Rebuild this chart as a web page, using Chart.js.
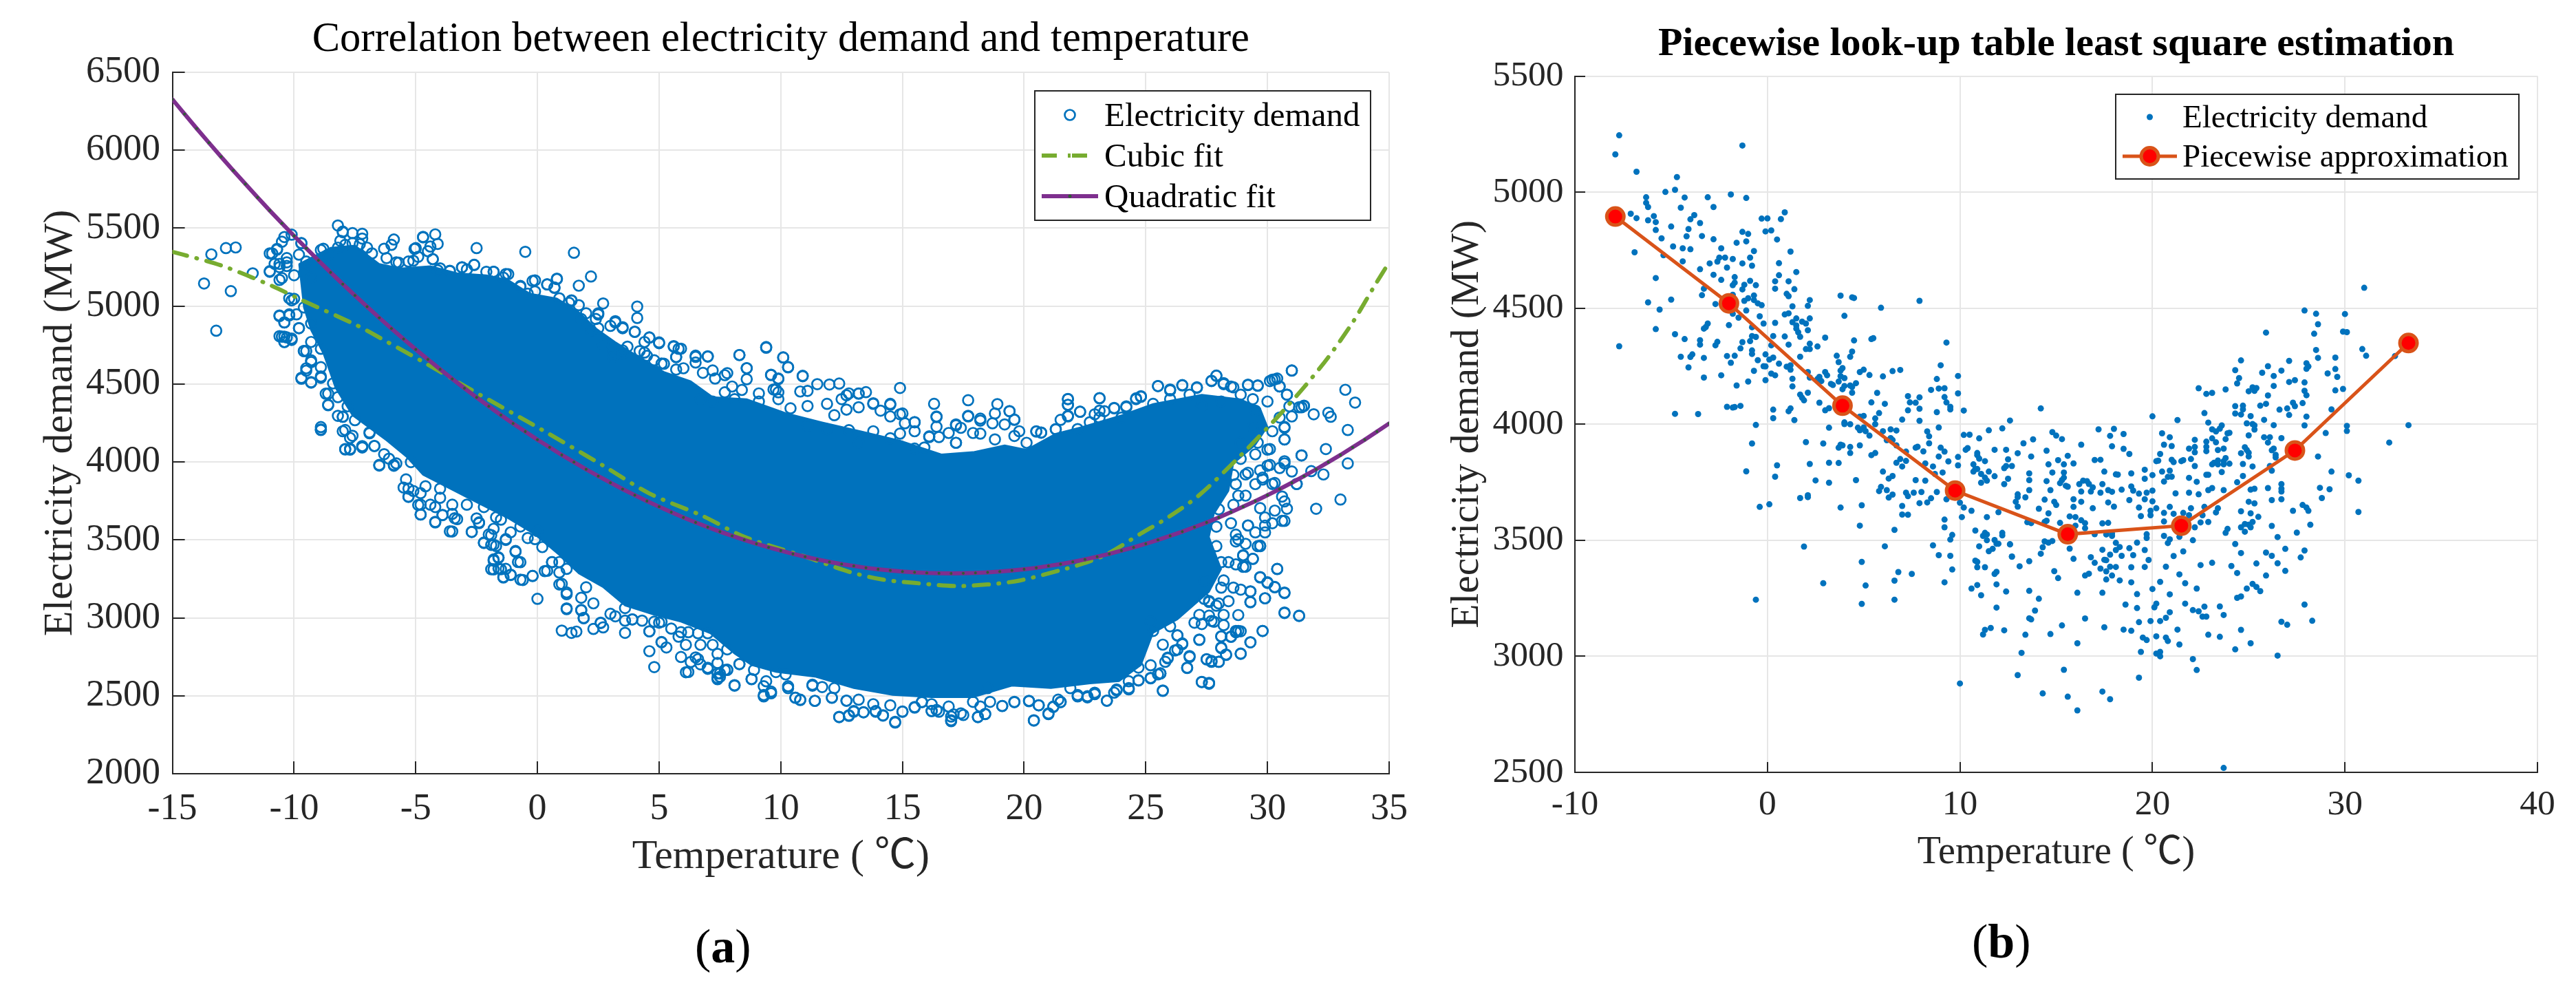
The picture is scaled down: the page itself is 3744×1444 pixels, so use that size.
<!DOCTYPE html>
<html>
<head>
<meta charset="utf-8">
<title>Electricity demand and temperature</title>
<script src="https://cdn.jsdelivr.net/npm/chart.js@4"></script>
<style>
html, body { margin: 0; padding: 0; background: #fff; width: 3744px; height: 1444px; overflow: hidden; }
canvas { position: absolute; top: 0; }
.caption { position: absolute; font-family: "Liberation Serif", serif; font-size: 70px; line-height: 1; color: #000; }
</style>
</head>
<body>
<canvas id="demandChart" width="2060" height="1300" style="left:0"></canvas>
<canvas id="lookupChart" width="1684" height="1300" style="left:2060px"></canvas>
<div class="caption" style="left:1010px;top:1340px">(<b>a</b>)</div>
<div class="caption" style="left:2866px;top:1333px">(<b>b</b>)</div>
<script>
// tick labels
const xTicksA = [-15, -10, -5, 0, 5, 10, 15, 20, 25, 30, 35];
const yTicksA = [2000, 2500, 3000, 3500, 4000, 4500, 5000, 5500, 6000, 6500];
const xTicksB = [-10, 0, 10, 20, 30, 40];
const yTicksB = [2500, 3000, 3500, 4000, 4500, 5000, 5500];

// left chart: dense part of the cloud, read as an outline
const cloudOutlineA = [[-9.8,5271],[-8.5,5375],[-7.5,5389],[-6.5,5271],[-5.6,5242],[-4.4,5257],[-3.3,5212],[-2.1,5198],[-1.2,5168],[-0.3,5080],[0.8,5050],[1.7,4962],[2.4,4858],[3.2,4770],[4.1,4681],[5.2,4578],[6.3,4519],[7.2,4417],[8.6,4403],[10.2,4314],[11.7,4255],[13.3,4197],[14.9,4138],[16.6,4049],[17.9,4064],[19.2,4108],[20.1,4079],[21.3,4182],[22.4,4226],[24,4300],[25.3,4373],[27.3,4432],[28.9,4403],[29.7,4344],[30,4226],[29.5,4108],[28.6,3990],[28.4,3814],[27.8,3666],[27.6,3519],[28.1,3313],[27.6,3166],[26.3,2990],[25.3,2902],[24.8,2696],[23.9,2593],[22.7,2578],[21.1,2549],[19.5,2564],[17.9,2490],[16.2,2490],[14.6,2505],[13,2549],[11.4,2622],[9.8,2652],[8.8,2696],[8.1,2770],[7.1,2901],[5.9,2975],[4.8,3019],[3.6,3078],[2.7,3196],[1.7,3284],[0.9,3402],[-0.1,3534],[-1.2,3638],[-2.5,3741],[-3.6,3829],[-4.7,3917],[-5.4,4035],[-6.2,4138],[-7.6,4298],[-8.3,4475],[-8.8,4696],[-9.3,4844],[-9.6,4991],[-9.8,5271]];

// left chart: circles around the cloud
const demandA = [[-13.4,5332],[-12.8,5372],[-12.4,5376],[-13.7,5145],[-12.6,5096],[-13.2,4842],[-11.7,5210],[-11,5224],[-11,5338],[-10.7,5362],[-10.4,5443],[-10.1,5458],[-10.5,5413],[-9.7,5403],[-10.8,5271],[-10.6,5250],[-10.3,5281],[-10.5,5180],[-10.1,5037],[-10,5047],[-10.6,4936],[-10.2,4940],[-10.4,4895],[-9.8,4859],[-10.5,4804],[-10.4,4804],[-10.1,4783],[-10.4,4769],[-9.6,4712],[-9.5,4712],[-9.3,4641],[-9.5,4601],[-9.7,4540],[-9.3,4509],[-8.9,4540],[-8.7,4438],[-8.6,4367],[-8.9,4209],[-7.9,4205],[-7.9,4083],[-7.7,4079],[-7.2,4093],[-6.7,4103],[-7.7,4154],[-8.2,4296],[-8,4290],[-6.9,4184],[-6.5,3977],[-5.9,3981],[-5.8,3991],[-8.2,5517],[-8,5474],[-7.6,5468],[-7.2,5464],[-7.2,5433],[-8.8,5368],[-7.9,5393],[-6.3,5368],[-5.9,5427],[-6,5393],[-4.7,5444],[-4.2,5460],[-4.1,5399],[-5,5372],[-4.5,5352],[-4.3,5301],[-5.1,5291],[-5.8,5281],[-2.5,5372],[-0.5,5348],[1.5,5342],[2.2,5190],[1.7,5131],[0.8,5173],[0.7,5119],[-0.1,5165],[-0.7,5129],[-1.3,5206],[-1.8,5220],[-2.6,5265],[-3.1,5249],[-3.6,5224],[-4.1,5230],[0.4,5139],[1.4,5037],[2.7,5017],[4.1,4997],[4.1,4924],[2.5,4946],[3.2,4895],[3.5,4865],[4,4834],[4.6,4798],[5,4767],[5.6,4743],[5.9,4727],[5.7,4672],[6,4601],[5.1,4631],[4.4,4702],[3.5,4716],[3.1,4672],
[-5.3,3829],[-4.8,3663],[-4.2,3612],[-3.9,3659],[-3.4,3639],[-3.6,3555],[-2.7,3551],[-5.3,3776],[-4.9,3724],[-2.4,3612],[-2.2,3480],[-1.8,3469],[-1.9,3531],[-1.3,3500],[-0.9,3429],[-0.7,3357],[-1.8,3367],[-1.6,3388],[-1.9,3312],[-1.5,3312],[-1.4,3259],[-1.1,3275],[-0.7,3245],[-0.2,3269],[0,3122],[0.3,3300],[0.6,3357],[0.9,3214],[1.2,3163],[1.2,3061],[1.8,3051],[1.9,3000],[1,2918],[1.4,2904],[1.6,2912],[2.3,2929],[2.7,2939],[2.6,2969],[3.6,2904],[3.2,3010],[3.9,2990],[4.6,2914],[5.1,2843],[5.3,2810],[4.6,2786],[4.8,2684],[5.9,2749],[6.1,2651],[5.9,2908],[5,2969],
[6.2,2653],[6.6,2735],[7,2673],[7.4,2606],[8.1,2565],[7.8,2667],[8.3,2704],[7.4,2643],[8.8,2606],[9.3,2496],[9.6,2516],[9.3,2561],[10.3,2561],[10.6,2488],[10.8,2473],[11.4,2467],[12.1,2488],[11.3,2565],[12.7,2469],[12.4,2363],[12.8,2371],[13,2398],[13.4,2394],[13.9,2398],[14.2,2373],[14.7,2328],[15,2398],[15.5,2428],[15.8,2459],[16.2,2402],[16.5,2398],[17,2337],[17,2367],[17.5,2377],[18.1,2363],[18.4,2382],[19.1,2435],[19.6,2459],[20.2,2465],[20.4,2341],[21,2382],[20.6,2439],[21.2,2428],[21.5,2459],[22.2,2496],[22.6,2490],[22.9,2510],[23.4,2469],[23.8,2541],[24.3,2541],[24.7,2598],[25.2,2612],[25.7,2531],[25.6,2643],[25.9,2745],[26.3,2796],[26.7,2678],[26.8,2749],[27.3,2588],[27.6,2577],[27.5,2735],[27.7,2724],[28,2718],[28.3,2765],[28.1,2810],[28.9,2771],[29.3,2843],[29.8,2916],[27.2,2861],[26.5,2831],[28.1,2882],[28.5,2878],[28.9,2914],[28.7,2908],[27.6,3014],[28.2,2953],[27.7,2980],[28.8,3018],[30.7,3031],[31.3,3014],[30.7,3159],[30.3,3198],[30,3224],[29.7,3259],[30.4,3314],[29.9,3126],[29.3,3102],[29.3,3169],[29.4,3378],[29,3398],[28.6,3194],[29,3327],[29.7,3463],[28,3092],[28.1,3194],[27.6,3102],[27,2969],[26.3,2888],
[32,3700],[33,3759],[30.8,3700],[30.7,3622],[29.9,3592],[29.7,3704],[29.2,3592],
[9.4,4733],[8.3,4686],[7,4676],[6.5,4682],[10.1,4670],[10.3,4607],[9.6,4560],[9.9,4536],[10.9,4550],[11.5,4499],[12,4497],[12.4,4503],[10.8,4452],[11.1,4456],[9.8,4465],[8.6,4601],[7.8,4570],[14.9,4475],[13.5,4448],[12.7,4428],[13.2,4438],[13.8,4377],[14.5,4367],[16.3,4373],[17.7,4396],[18.9,4371],[16.4,4292],[17.7,4296],[19.4,4326],[19.6,4272],[15.5,4255],[14.9,4306],[18.2,4265],[17.2,4235],[16.1,4160],[17.2,4123],[21.8,4404],[21.8,4367],[22.3,4322],[23.1,4408],[23.7,4347],[24.2,4357],[21.8,4296],[22.9,4306],[23.3,4326],[21.3,4209],[20.5,4195],[20.7,4188],[24.6,4408],[24.8,4422],[25.5,4487],[26,4465],[26.5,4493],[27.1,4479],[27.7,4519],[27.9,4554],[28.2,4499],[28.6,4479],[29.2,4493],[29.6,4489],[30.1,4519],[30.3,4530],[30.5,4485],[30.8,4432],[31,4586],[30.9,4357],[31.4,4351],[31.5,4361],[31.9,4306],[32.5,4316],[32.6,4290],[33.2,4463],[33.6,4381],[33.3,4205],[32.4,4083],[31.4,4042],[33.3,3991],[32.3,3920],[31.8,3941],[30.7,4225],[30.7,4144],[30.1,4083],[30.1,3981],[30.7,3991],[31.2,3859],[29.8,3900],[29.1,3920],[29.6,4124],[30.2,3859],[30.6,3778]];

// left chart: the busier fringe of the cloud, from closer crops
const fringeA = [[-10.7,5367],[-10.9,5338],[-9.7,5404],[-11,5220],[-10.6,5271],[-10.3,5308],[-10.3,5257],[-10.6,5168],[-9.8,5330],[-9.5,5286],[-9.6,5212],[-10,5198],[-9.3,5183],[-8.9,5360],[-8.6,5330],[-8.2,5375],[-8,5478],[-8.1,5419],[-7.6,5404],[-7.3,5397],[-7,5375],[-6.8,5338],[-6.2,5308],[-5.7,5279],[-5.3,5286],[-5.05,5367],[-4.7,5441],[-4.4,5382],[-4.3,5301],[-4.9,5316],[-4,5242],[-3.6,5227],[-3.1,5249],[-2.9,5235],[-2.6,5264],[-2.1,5220],[-1.8,5220],[-1.2,5205],[-1.4,5183],[-0.7,5124],[-0.2,5161],[0.4,5139],[0.8,5176],[0.7,5117],[-0.1,5094],[-0.4,5080],[0.9,5050],[1.4,5035],[1.7,5006],[2,4954],[2.5,4954],[2.4,4917],[3.2,4903],[3,4873],[3.5,4858],[4,4836],[4.4,4770],[4.6,4799],[5,4762],[5.6,4740],[5.8,4726],[6.5,4674],[5.7,4674],[5.7,4593],[5.2,4630],[4.8,4652],[4.5,4681],[4.2,4711],[3.7,4740],[3.5,4696],[3.1,4696],[2.5,4858],[2.7,4755],[2.2,4844],[1.8,4917],[1.3,5021],
[-10.2,5050],[-9.6,4991],[-9.9,4947],[-10.6,4940],[-10.2,4947],[-10.4,4895],[-9.8,4858],[-10.6,4807],[-10.3,4799],[-10.4,4770],[-10.1,4792],[-9.6,4711],[-9.3,4888],[-9.3,4770],[-8.9,4726],[-9.3,4652],[-9.5,4586],[-9.7,4534],[-9.3,4512],[-8.9,4549],[-8.9,4608],[-8.4,4504],[-8.6,4438],[-8.6,4364],[-8.2,4416],[-8,4290],[-7.8,4357],[-7.5,4268],[-8.9,4224],
[-8.9,4205],[-7.9,4080],[-7.7,4084],[-7.2,4102],[-6.7,4102],[-8,4197],[-7.6,4168],[-6.9,4190],[-6.5,3981],[-6.3,4050],[-5.9,3976],[-6.1,4021],[-5.2,3999],[-5.4,3888],[-5.5,3836],[-5.3,3778],[-5.1,3814],[-4.8,3800],[-4.8,3726],[-4.8,3663],[-4.4,3726],[-4.2,3711],[-3.9,3660],[-4.2,3616],[-3.5,3726],[-3.5,3667],[-3.3,3633],[-3.5,3554],[-4,3829],[-4,3770],[-4.6,3844],[-2.9,3726],[-2.2,3711],[-2.7,3552],[-2.5,3638],[-2.4,3608],[-1.7,3645],[-1.5,3630],[-1.8,3571],[-2,3535],[-2.2,3483],[-1.9,3468],[-1.7,3461],[-1.3,3505],[-1.1,3549],[-0.7,3586],[-0.4,3512],[-0.1,3505],[0,3557],[0.2,3454],[-0.9,3424],[-1.6,3384],[-1.8,3375],[-0.8,3358],[-1.8,3311],[-1.6,3317],[-1.3,3314],[-1.4,3262],[-1.1,3277],[-0.6,3243],[-0.2,3269],[0.4,3302],[0.6,3358],[0.9,3358],[0.9,3291],[1.2,3314],[1,3218],[1.2,3152],[1.2,3056],[1.8,3048],[1.9,2997],[1.8,3129],[2,3196],[2.3,3093],[2.6,2967],[3,3026],[3.6,3063],[3.6,2982],[3.9,2990],[4.3,2982],[4.8,2975],[4.6,2913],[5.1,2845],[5.5,2931],[5.8,2879],[6.1,2827],[6.2,2908],[6.3,2717],[6.5,2746],[6.6,2901],[6.7,2702],[6.7,2827],[7,2680],[7,2901],[7.2,2827],[7.4,2710],[7.4,2614],[7.4,2769],[7.5,2643],[7.7,2665],[7.8,2798],[5.1,2975],
[6.5,4638],[7,4678],[8.3,4686],[9.4,4737],[10.1,4671],[10.3,4609],[8.6,4602],[9.6,4557],[9.9,4532],[10.9,4553],[9.7,4465],[9.9,4447],[9.1,4440],[8.4,4462],[8,4484],[7.7,4557],[7.2,4587],[6.8,4572],[8.6,4531],[7.3,4535],[7.7,4447],[7.2,4388],[6.7,4403],[8.1,4403],[9.1,4388],[9.9,4403],[10.4,4344],[11.1,4359],[11.9,4373],[12.5,4403],[13.2,4440],[12.8,4440],[13.8,4373],[14.5,4373],[14.1,4329],[13.2,4351],[12.7,4336],[12.2,4300],[15,4311],[14.5,4292],[15.5,4255],[15.1,4248],[16.4,4288],[17.7,4292],[18.8,4311],[19.4,4326],[19.6,4270],[18.2,4278],[17.2,4241],[17.4,4219],[16.4,4226],[16.9,4186],[16.5,4160],[16.1,4164],[17.2,4123],[17.9,4186],[18.2,4182],[18.8,4145],[19.2,4241],[18.7,4248],[19.8,4197],[19.6,4167],[20.5,4197],[20.7,4189],[20.1,4123],[15.5,4086],[15.9,4093],[14.9,4182],[15.5,4197],[13.8,4197],[14.5,4152],[12.8,4204],[13.2,4123],[11.9,4211],[11.1,4233],
[21.8,4403],[21.8,4366],[23.1,4410],[22.3,4322],[21.8,4292],[21.5,4270],[23.1,4329],[23.7,4344],[24.2,4351],[24.6,4403],[24.8,4418],[25.5,4487],[26,4459],[26.5,4491],[27.1,4476],[27.7,4521],[27.9,4553],[28.5,4484],[29.2,4496],[29.6,4491],[30.2,4528],[30.4,4535],[30.5,4484],[31,4587],[30.8,4432],[28.9,4432],[28.2,4506],[26.8,4432],[26,4403],[25.3,4373],[24,4285],[23.1,4285],[22.7,4255],[22.2,4211],[21.3,4211],[27.3,4359],[28.1,4388],[29.4,4403],[30,4388],[29.5,4329],[30.5,4285],[30.7,4219],[30.7,4145],[30,4079],[30.2,4197],[31.3,4351],[31.5,4359],[31,4292],[31.4,4042],[30.7,4005],[31,3939],[30.5,3961],[30,3976],[29.7,3946],[29.2,3931],[31.2,3858],[29.8,3887],[30.3,3865],[29.1,3784],[29.5,3858],[30.7,3747],[30.6,3622],[30.2,3607],[29.9,3644],[30.3,3688],[28.6,3725],[28.8,3784],[28,3696],[27.9,3585],[28.5,3607],[29.2,3593],[29.9,3548],[29.5,3548],[29.1,3475],[29.6,3460],[28.7,3534],[28.8,3504],[28.7,3858],[28.6,3917],[28.1,3865],[28.9,4020],[29.5,4049],[28.9,4123],[29.4,4226],
[8.3,2703],[7.8,2666],[7.5,2622],[8.1,2568],[8.8,2608],[9.3,2505],[9.6,2527],[8.9,2666],[9.4,2593],[9.8,2652],[10.2,2637],[10.3,2549],[10.6,2487],[10.8,2475],[11.4,2468],[12.1,2487],[11.3,2571],[11.7,2556],[12.2,2549],[12.7,2468],[12.4,2365],[12.8,2375],[13,2402],[13.4,2395],[13.9,2402],[14.2,2375],[14.7,2333],[15,2399],[15.5,2424],[15.8,2461],[13.2,2475],[13.8,2446],[14.5,2439],[16.2,2402],[16.4,2409],[17,2343],[17.1,2380],[17.4,2387],[18.1,2365],[18.4,2384],[18.6,2461],[19.1,2434],[19.6,2461],[20.2,2468],[20.4,2343],[21,2387],[20.6,2439],[21.2,2431],[21.5,2461],[22.2,2505],[22.6,2497],[22.9,2512],[23.4,2468],[23.7,2520],[24.3,2549],[24.7,2600],[25.2,2615],[25.7,2534],[25.6,2644],[25.8,2718],[25.9,2740],[26.2,2791],[26.7,2681],[26.8,2755],[27.3,2589],[27.6,2583],[27.5,2733],[27.7,2718],[28,2718],[28.3,2762],[28.1,2806],[28.9,2769],[29.3,2843],[29.8,2916],[27.2,2858],[26.5,2836],[28.1,2880],[28.5,2880],[28.8,2916],[27.2,3019],[27.6,3108],[28.2,3019],[27.8,2975],[28.7,2916],[30.7,3034],[31.3,3012],[30.7,3162],[30.3,3196],[30,3228],[29.7,3262],[30.4,3313],[29.9,3125],[29.3,3100],[29.3,3170],[29.4,3379],[29.1,3328],[28.7,3343],[29.7,3460],[28.9,3181],[28.4,3107],[27.9,3078],[27.4,3122],[27.4,3240],[28.2,3240],[28.1,3357],[29,3402],[28.4,3357],[28.7,3490],[27.9,3460],[25.2,2696],[25.5,2637],[23.8,2534],[22.9,2520],[21.9,2549],[21.4,2475],[24.3,2593],[24.7,2681],[18.2,2431],[17.9,2461],[18.5,2549],[16.9,2431],[16.2,2446],[27.3,2960],[26.3,2887],[26,2946],[25.3,2916],[25.7,2828],[25.2,2975]];

const cubicA = [[-15,5348],[-13,5261],[-10.9,5129],[-9.8,5047],[-7.4,4875],[-6.4,4790],[-4.8,4651],[-2.9,4479],[0.2,4205],[2.7,3977],[4.6,3798],[6.8,3653],[8.5,3520],[10.9,3398],[12.8,3296],[14.2,3245],[15.5,3224],[17.2,3204],[18.5,3214],[19.8,3239],[21.5,3306],[22.4,3347],[23.4,3408],[24.8,3541],[25.9,3643],[27.2,3788],[28.9,4042],[30.4,4286],[31.5,4479],[32.5,4672],[33.5,4895],[34.4,5130],[35,5281]];

const quadTempA = [-15,-14.5,-14,-13.5,-13,-12.5,-12,-11.5,-11,-10.5,-10,-9.5,-9,-8.5,-8,-7.5,-7,-6.5,-6,-5.5,-5,-4.5,-4,-3.5,-3,-2.5,-2,-1.5,-1,-0.5,0,0.5,1,1.5,2,2.5,3,3.5,4,4.5,5,5.5,6,6.5,7,7.5,8,8.5,9,9.5,10,10.5,11,11.5,12,12.5,13,13.5,14,14.5,15,15.5,16,16.5,17,17.5,18,18.5,19,19.5,20,20.5,21,21.5,22,22.5,23,23.5,24,24.5,25,25.5,26,26.5,27,27.5,28,28.5,29,29.5,30,30.5,31,31.5,32,32.5,33,33.5,34,34.5,35];
const quadDemandA = [6326,6232,6139,6048,5958,5870,5783,5697,5613,5531,5450,5371,5293,5216,5141,5068,4996,4925,4856,4789,4722,4658,4595,4533,4473,4414,4357,4301,4247,4195,4143,4094,4045,3999,3953,3909,3867,3826,3787,3749,3713,3678,3644,3612,3582,3553,3526,3500,3475,3452,3431,3410,3392,3375,3359,3345,3333,3321,3312,3304,3297,3292,3288,3286,3285,3286,3288,3292,3297,3304,3312,3321,3333,3345,3359,3375,3392,3410,3431,3452,3475,3500,3526,3553,3582,3612,3644,3678,3713,3749,3787,3826,3867,3909,3953,3999,4045,4094,4143,4195,4247];

// right chart: samples
const demandB = [[-7.7,5245],[-7.9,5163],[-1.3,5201],[-6.8,5088],[-4.7,5065],[-4.8,5010],[-5.3,5001],[-6.3,4978],[-6.3,4954],[-6.2,4936],[-4.3,4977],[-3.1,4978],[-1.9,4990],[-1.1,4975],[-4.5,4933],[-2.8,4936],[-7.1,4907],[-6.8,4888],[-5.9,4897],[-6.2,4879],[-5.8,4871],[-3.8,4901],[-4,4883],[-3.5,4867],[-5,4852],[-4.1,4841],[-5.8,4837],[-5.5,4801],[-4.2,4810],[-3.4,4811],[-2.8,4797],[-1.3,4829],[-1,4820],[-0.1,4831],[0.2,4835],[-0.3,4886],[0,4887],[0.7,4884],[0.9,4913],[0.5,4796],[-1.1,4788],[-1.6,4782],[-4.9,4766],[-4.4,4758],[-4,4754],[-2.4,4758],[-0.7,4746],[1.2,4744],[-6.9,4741],[-5.4,4728],[-2.5,4718],[-2.2,4718],[-1.8,4712],[-2.6,4701],[-0.9,4718],[-4.4,4702],[-3,4693],[-1.3,4693],[0.6,4694],[-0.8,4683],[-2.1,4675],[-3.5,4668],[1.5,4656],[-2.8,4644],[0.6,4642],[-5.8,4630],[-1.7,4634],[-2.4,4622],[-0.9,4618],[0.4,4616],[1.1,4616],[-1.7,4610],[-1.8,4599],[-1.2,4601],[-0.6,4599],[0.4,4584],[-3.3,4584],[-1.3,4581],[1.4,4582],[1,4562],[1.1,4552],[-3.4,4556],[-1.8,4558],[-0.7,4555],[3.8,4554],[4.4,4547],[4.5,4544],[7.9,4532],[-5,4537],[-6.2,4525],[-1.2,4532],[-0.7,4535],[-1,4543],[-0.5,4521],[-0.3,4513],[-2.7,4518],[2.2,4535],[2.1,4510],[1.3,4508],[5.9,4502],[-5.6,4494],[-1.1,4490],[-1.8,4476],[0.9,4473],[1.1,4478],[-1.5,4459],[-0.4,4465],[1.5,4456],[2.2,4456],[4,4467],[1.3,4440],[-0.2,4434],[0.4,4437],[1.8,4442],[2,4434],[1.5,4426],[-3.1,4434],[-3.2,4419],[-3.3,4412],[-2,4427],[-0.8,4418],[1.5,4412],[2.1,4405],[-5.8,4410],[1.6,4396],[0.3,4380],[0.9,4378],[1.7,4377],[-0.8,4380],[-0.6,4376],[3,4373],[-4.8,4388],[-4.3,4367],[5.4,4367],[5.5,4371],[-3.5,4362],[4.5,4361],[-0.9,4358],[-1.3,4354],[-2.6,4355],[-3.5,4343],[-2.7,4340],[2.2,4347],[1.1,4343],[9.3,4352],[-7.7,4336],[0.2,4340],[2.6,4335],[-1.4,4327],[2,4324],[2.2,4324],[-0.8,4318],[4.4,4313],[-0.8,4303],[-0.1,4301],[3.6,4295],[-1.7,4295],[-2.1,4294],[-4.5,4291],[-3.9,4301],[-4,4290],[-3.3,4286],[0.3,4287],[0.1,4279],[1.7,4291],[4.3,4291],[-0.5,4276],[3.7,4268],[-1.9,4265],[0.6,4261],[9,4254],[-4.1,4245],[-0.2,4250],[-0.1,4249],[1,4248],[1.2,4254],[3.9,4242],[1.2,4235],[3.8,4231],[-0.7,4230],[5,4235],[4.8,4225],[6.5,4229],[6.9,4234],[2.1,4225],[3,4225],[0.2,4218],[0.4,4211],[-2.4,4211],[5.3,4212],[9.9,4208],[3.1,4211],[-3.3,4201],[2.7,4204],[2.2,4201],[2.6,4195],[3.8,4207],[4,4199],[6,4206],[1.3,4196],[2.8,4186],[-0.1,4190],[8.8,4195],[-1,4184],[3.7,4184],[4.6,4177],[3.3,4174],[3.4,4169],[-1.6,4167],[4.3,4167],[1.3,4163],[4.4,4161],[4,4165],[3.9,4151],[8.9,4154],[9.2,4155],[8.5,4148],[4.4,4136],[5.7,4135],[9.9,4133],[1.7,4128],[2.1,4136],[7.3,4121],[7.9,4116],[9.2,4117],[1.8,4114],[1.9,4103],[2.7,4093],[5.4,4094],[7.4,4094],[7.7,4093],[9.3,4094],[6.1,4088],[-2.1,4075],[-1.8,4072],[-1.7,4074],[-1.4,4079],[9.5,4075],[9.5,4064],[3,4060],[3.2,4069],[7.9,4067],[7.3,4060],[0.3,4063],[1.2,4068],[1.1,4056],[-4.8,4045],[-3.6,4044],[8.8,4052],[10.2,4059],[5.8,4048],[4.8,4033],[5,4036],[0.3,4026],[1.4,4018],[7,4020],[7.9,4015],[4,4008],[5.6,4025],[12.6,4016],[4,4001],[-0.6,3997],[4.3,4000],[5.6,4000],[3.2,3985],[4.7,3985],[8.9,3986],[5,3986],[4.8,3974],[5.1,3970],[6.4,3978],[6.7,3973],[6,3970],[8.3,3969],[11.5,3974],[12.2,3982],[5.3,3951],[8.4,3948],[10.2,3954],[10.5,3955],[6.4,3940],[6.5,3932],[6.2,3931],[11,3939],[2,3923],[2.9,3917],[-0.8,3917],[3.8,3912],[3.7,3899],[3.9,3909],[4.3,3902],[4.8,3909],[6.7,3909],[8.4,3918],[7.8,3903],[7.7,3899],[9,3899],[10.4,3897],[10.3,3890],[9.2,3882],[8.1,3883],[7.2,3882],[4.3,3876],[5.4,3867],[5.6,3876],[11.8,3890],[12.4,3890],[10.9,3876],[10.9,3867],[8.9,3861],[9.9,3859],[11,3852],[6.9,3850],[7.2,3842],[11.3,3841],[12.5,3849],[6.7,3834],[7,3818],[9.4,3840],[8.2,3831],[8.6,3818],[10.7,3827],[0.5,3823],[2.2,3829],[3.2,3834],[3.7,3833],[9.9,3823],[12.4,3820],[12.3,3811],[12.7,3820],[10.8,3807],[10.7,3796],[10.9,3807],[9.1,3792],[6,3796],[8.7,3786],[11.5,3796],[-1.1,3797],[6.5,3777],[6.3,3766],[0.4,3774],[11.1,3786],[11.8,3776],[11.3,3770],[11.4,3757],[11.1,3748],[12.5,3765],[12.3,3742],[2.5,3758],[3.2,3748],[4.6,3759],[7.7,3759],[8.2,3757],[5.9,3730],[5.8,3712],[6.2,3716],[6.5,3697],[7.2,3705],[7.6,3705],[8,3708],[8.8,3708],[2.1,3694],
[-0.4,3644],[0.1,3655],[1.7,3682],[2.1,3686],[3.8,3641],[4.9,3651],[6.3,3684],[7,3648],[7,3611],[7.3,3610],[7.3,3690],[7.9,3660],[8.3,3663],[8.5,3681],[9.3,3677],[10,3662],[10.2,3641],[10.6,3627],[10.1,3600],[11.4,3600],[12,3621],[9.2,3589],[9.2,3556],[4.8,3563],[6.6,3545],[10.8,3542],[9.6,3523],[11.2,3519],[11.3,3532],[11.4,3525],[12.2,3532],[12.2,3521],[9.5,3503],[11.4,3500],[11.8,3501],[11.9,3485],[12,3485],[12.6,3482],[1.9,3473],[6.1,3474],[8.6,3478],[11,3474],[11.7,3463],[11.5,3453],[8.9,3436],[9.5,3433],[12.7,3429],[10.8,3412],[10.9,3407],[4.9,3407],[10.9,3384],[11.3,3384],[9.6,3374],[6.8,3363],[11.9,3364],[11.8,3355],[7.5,3355],[6.6,3326],[2.9,3315],[9.2,3319],[5.1,3305],[11.9,3310],[10.9,3307],[10.6,3292],[12.4,3279],[11.1,3263],[-0.6,3244],[6.6,3244],[4.9,3226],[11.9,3210],[11.3,3114],[11.6,3122],[11.2,3094],[12.3,3112],[10,2883],[13,2919],
[31,4588],[27.9,4490],[28.5,4476],[30,4475],[28.6,4431],[25.9,4395],[28.4,4390],[29.9,4399],[30.1,4397],[30.9,4324],[31.1,4295],[28.5,4320],[28.6,4286],[29.5,4287],[32.6,4294],[24.6,4275],[27.1,4273],[28,4263],[28.1,4249],[28,4239],[24.3,4233],[26,4250],[26.7,4231],[29.5,4238],[24.5,4199],[25.7,4222],[26.3,4208],[29.1,4219],[29.6,4204],[24.4,4176],[27.1,4182],[27.4,4190],[27.9,4180],[22.4,4155],[22.8,4131],[23.1,4135],[23.8,4150],[25,4142],[25.2,4159],[25.3,4144],[25.4,4156],[26.3,4165],[29.9,4152],[29.5,4146],[27.9,4144],[28,4125],[26,4124],[25.9,4088],[25.6,4080],[24.3,4078],[24.7,4080],[24.7,4064],[24.3,4046],[24.6,4042],[22.7,4048],[27.3,4093],[27.4,4078],[27.8,4091],[26.6,4063],[27,4068],[27.1,4040],[29.3,4064],[28,4033],[25.1,4035],[14.2,4068],[20,4034],[21.3,4018],[25.8,4019],[22.9,4007],[24.9,4004],[25.2,4001],[25.3,3995],[26.3,3996],[27.9,3995],[30.1,3993],[33.3,3996],[30.1,3971],[23.1,3978],[23.6,3995],[23.5,3981],[23.3,3969],[25.3,3977],[17.2,3978],[18,3980],[17.8,3950],[18.5,3958],[14.8,3966],[15,3951],[15.3,3936],[13.8,3935],[13.3,3918],[20.5,3961],[20.9,3944],[20.6,3912],[21,3906],[22.2,3933],[21.9,3895],[22.2,3902],[22.2,3879],[22.8,3925],[22.8,3903],[22.8,3884],[23.1,3939],[23.3,3922],[23.8,3936],[23.9,3961],[24,3963],[23.7,3895],[23.4,3889],[25,3952],[25.8,3944],[26.1,3944],[26.7,3940],[26,3921],[29,3962],[32.3,3921],[16.3,3912],[17.9,3905],[18.5,3894],[18.8,3872],[14.5,3886],[13,3875],[13.7,3861],[15.6,3864],[15.1,3845],[14.6,3827],[15.4,3827],[15.9,3831],[17,3846],[17.3,3847],[20.4,3872],[20.2,3841],[20.3,3843],[21,3847],[21.1,3837],[21.5,3841],[21.6,3845],[22,3850],[22.2,3820],[23.4,3844],[23.1,3827],[23.2,3834],[23.4,3827],[23.7,3827],[23.7,3841],[23.8,3854],[24,3830],[24.6,3875],[25,3877],[24.8,3901],[24.9,3889],[25,3861],[24.7,3829],[25.2,3818],[26.1,3820],[26.2,3800],[26.3,3895],[26.2,3888],[26.4,3868],[26.4,3857],[28.6,3861],[13.6,3788],[14.8,3792],[15.4,3792],[17.5,3796],[18.1,3784],[18.2,3783],[18.9,3788],[19.6,3804],[20,3781],[19.6,3765],[20.5,3796],[20.9,3800],[20.8,3773],[21,3774],[20.6,3753],[21.9,3769],[22.3,3752],[22.8,3782],[22.9,3782],[23.6,3794],[24.7,3777],[24.4,3750],[25.1,3718],[25.3,3722],[26,3725],[26.7,3742],[26.7,3722],[26.7,3710],[29.3,3796],[30.2,3780],[30.7,3757],[28.7,3726],[29.2,3720],[13.6,3759],[13.6,3716],[14.5,3755],[14.7,3716],[15.2,3746],[15.3,3759],[15.4,3770],[15.5,3735],[15.6,3731],[16.2,3742],[16.4,3757],[16.6,3755],[16.7,3743],[16.9,3728],[16.8,3710],[16.3,3710],[17.4,3742],[17.3,3705],[17.7,3716],[17.9,3709],[18.4,3718],[19,3714],[18.9,3732],[19.3,3701],[19.7,3705],[20,3714],[21.2,3702],[21.9,3705],[22.4,3698],[22.9,3716],[23.1,3725],[23.7,3716],[13,3698],
[13,3686],[13,3645],[13.4,3685],[12.9,3666],[14.4,3675],[14.1,3636],[14.6,3616],[14.9,3666],[15,3652],[15.9,3677],[15.9,3644],[16.3,3666],[16.9,3638],[17.7,3663],[18,3645],[18.8,3673],[19.3,3641],[19.6,3677],[20,3668],[19.9,3627],[19.9,3608],[19.4,3604],[20.2,3638],[20.6,3618],[20.9,3644],[20.6,3581],[21.1,3614],[21.6,3618],[22,3638],[21.9,3608],[22.7,3644],[22.6,3608],[22.5,3577],[22.9,3579],[22.2,3556],[23.4,3638],[23.3,3620],[24.6,3625],[25.1,3616],[25.5,3601],[25.2,3579],[25,3666],[25.3,3659],[26.2,3673],[26.7,3677],[27.3,3627],[27.8,3652],[28,3641],[28.1,3627],[28.8,3682],[30.7,3622],[28.2,3567],[26.2,3562],[24.6,3556],[24.8,3570],[25,3567],[25.1,3556],[24.8,3537],[23.9,3549],[23.8,3532],[27.5,3533],[26.5,3514],[13.5,3578],[13.7,3574],[14.4,3579],[14.5,3584],[15.2,3575],[15.7,3603],[16,3600],[16.3,3586],[16.5,3574],[16.5,3552],[16,3563],[17.4,3573],[17.7,3575],[17,3526],[17.6,3525],[17.9,3529],[17.9,3519],[19.7,3526],[19.7,3510],[20.6,3519],[20.8,3488],[20.9,3504],[21.4,3515],[22.1,3500],[21.6,3452],[24.3,3484],[24.6,3445],[25.9,3447],[26.2,3433],[26.9,3463],[27.9,3456],[27.7,3426],[26.9,3368],[26.5,3401],[25.4,3400],[24.1,3389],[23.1,3403],[22.5,3393],[24.4,3359],[25.9,3348],[21.4,3353],[20.7,3386],[21.1,3432],[19.8,3415],[19.6,3458],[19.6,3385],[19.2,3490],[19,3436],[18.8,3466],[18.4,3433],[18.9,3384],[18.3,3471],[18.1,3489],[18.1,3458],[17.8,3438],[17.4,3459],[16.8,3427],[17,3403],[17.5,3416],[17.6,3414],[17.3,3378],[17.6,3366],[17.8,3386],[18.1,3385],[17.9,3348],[17.6,3331],[16.7,3356],[16.5,3348],[18.3,3327],[18.9,3319],[20.4,3321],[20,3290],[21.7,3315],[22.3,3292],[24.9,3292],[25.2,3312],[25.4,3299],[25.6,3281],[24.6,3258],[24.4,3252],[20.9,3267],[19.2,3268],[17.4,3274],[16.1,3274],[15.9,3420],[15.7,3464],[14.4,3495],[14.6,3490],[14.8,3497],[14.3,3470],[14.2,3442],[13.6,3410],[13.1,3388],[12.7,3430],[12.6,3483],[14.9,3367],[15.1,3337],[13.6,3282],[14.1,3248],[13.9,3197],[13.6,3164],[13.7,3159],[16.5,3163],[15.3,3133],[14.7,3096],[13.4,3093],[13.2,3015],[14.3,2840],[15.4,2942],[15.6,2826],[17.4,2848],[17.8,2815],[16.1,2767],[16.1,3056],[17.5,3125],[18.5,3115],[18.9,3110],[18.6,3223],[19.2,3208],[19.3,3147],[19.9,3152],[20.4,3152],[20.7,3166],[20.9,3190],[20.1,3211],[20.2,3227],[21.7,3227],[22.1,3199],[22.4,3194],[22.7,3214],[22.6,3171],[22.8,3171],[23.5,3215],[23.7,3178],[19.5,3081],[19.7,3070],[20.2,3086],[20.7,3081],[20.8,3066],[21.4,3051],[21.3,3115],[22.9,3093],[23.5,3084],[24.6,3114],[25.1,3056],[24.3,3030],[26.7,3149],[27,3136],[27.9,3223],[28.3,3153],[26.5,3003],[19.4,3019],[20.2,3012],[20.4,3019],[20.4,3000],[22.1,2988],[22.3,2941],[19.3,2908],[23.7,2519]];

const piecewiseB = [[-7.9,4895],[-2,4521],[3.9,4080],[9.75,3714],[15.6,3526],[21.5,3563],[27.4,3887],[33.3,4350]];

const BLUE = '#0072bd', GREEN = '#77ac30', PURPLE = '#7e2f8e', ORANGE = '#d95319', RED = '#ff0000', MARK = '#2f5d34';
const INK = '#262626', GRID = '#e6e6e6', SERIF = '"Liberation Serif", "Noto Sans CJK SC", serif';

function xy(list) {
    return list.map(function (p) { return { x: p[0], y: p[1] }; });
}

// boxed legend inside the plot, as in the original figure
function legendPlugin(cfg) {
    return {
        id: 'boxLegend',
        afterDraw: function (chart) {
            const ctx = chart.ctx;
            ctx.save();
            ctx.fillStyle = '#fff';
            ctx.strokeStyle = INK;
            ctx.lineWidth = 2;
            ctx.fillRect(cfg.left, cfg.top, cfg.width, cfg.height);
            ctx.strokeRect(cfg.left, cfg.top, cfg.width, cfg.height);
            cfg.rows.forEach(function (row) {
                row.draw(ctx, cfg.x0, cfg.x1, row.y);
                ctx.fillStyle = '#000';
                ctx.font = cfg.size + 'px ' + SERIF;
                ctx.textBaseline = 'middle';
                ctx.fillText(row.text, cfg.textX, row.y + 3);
            });
            ctx.restore();
        }
    };
}

function hLine(ctx, x0, x1, y, color, width, dash) {
    ctx.beginPath();
    ctx.setLineDash(dash || []);
    ctx.strokeStyle = color;
    ctx.lineWidth = width;
    ctx.moveTo(x0, y);
    ctx.lineTo(x1, y);
    ctx.stroke();
    ctx.setLineDash([]);
}

function dot(ctx, x, y, r, fill, stroke, width) {
    ctx.beginPath();
    ctx.arc(x, y, r, 0, Math.PI * 2);
    if (fill) { ctx.fillStyle = fill; ctx.fill(); }
    if (stroke) { ctx.strokeStyle = stroke; ctx.lineWidth = width; ctx.stroke(); }
}

function axis(tickValues, min, max, titleText, size, titleSize, titlePad, tickLen, tickPad, fit) {
    return {
        type: 'linear',
        min: min,
        max: max,
        afterBuildTicks: function (scale) {
            scale.ticks = tickValues.map(function (v) { return { value: v }; });
        },
        afterFit: fit,
        grid: { color: GRID, lineWidth: 2, tickColor: INK, tickWidth: 2, tickLength: tickLen },
        border: { color: INK, width: 2 },
        ticks: {
            autoSkip: false,
            maxRotation: 0,
            color: INK,
            padding: tickPad,
            font: { family: SERIF, size: size },
            callback: function (v) { return String(v); }
        },
        title: {
            display: true,
            text: titleText,
            color: INK,
            font: { family: SERIF, size: titleSize },
            padding: { top: titlePad, bottom: titlePad }
        }
    };
}

new Chart(document.getElementById('demandChart'), {
    type: 'scatter',
    data: {
        datasets: [
            {
                label: 'Quadratic fit',
                data: quadTempA.map(function (t, i) { return { x: t, y: quadDemandA[i] }; }),
                showLine: true,
                borderColor: PURPLE,
                borderWidth: 6,
                pointRadius: 2.5,
                pointBackgroundColor: MARK,
                pointBorderColor: PURPLE,
                pointBorderWidth: 1,
                order: 1
            },
            {
                label: 'Cubic fit',
                data: xy(cubicA),
                showLine: true,
                tension: 0.3,
                borderColor: GREEN,
                borderWidth: 6,
                borderDash: [22, 14, 1, 14],
                borderCapStyle: 'round',
                pointRadius: 0,
                order: 2
            },
            {
                label: 'Electricity demand',
                data: xy(demandA.concat(fringeA)),
                borderColor: BLUE,
                backgroundColor: 'rgba(0,0,0,0)',
                borderWidth: 2.7,
                pointRadius: 7.5,
                order: 3
            },
            {
                label: 'cloud',
                data: xy(cloudOutlineA),
                showLine: true,
                fill: 'shape',
                borderColor: BLUE,
                backgroundColor: BLUE,
                borderWidth: 2,
                pointRadius: 0,
                order: 4
            }
        ]
    },
    options: {
        responsive: false,
        animation: false,
        devicePixelRatio: 1,
        layout: { padding: { top: 0, right: 41, bottom: 0, left: 0 } },
        plugins: {
            legend: { display: false },
            tooltip: { enabled: false },
            title: {
                display: true,
                fullSize: false,
                text: 'Correlation between electricity demand and temperature',
                color: '#000',
                font: { family: SERIF, size: 60.5, weight: 'normal', lineHeight: 1 },
                padding: { top: 28, bottom: 16.5 }
            }
        },
        scales: {
            x: axis(xTicksA, -15, 35, 'Temperature ( ℃)', 54, 60, 19, -18, 37,
                function (s) { s.height = 176; s.paddingLeft = 0; s.paddingRight = 0; }),
            y: axis(yTicksA, 2000, 6500, 'Electricity demand (MW)', 54, 60, 52, -18, 35.6,
                function (s) { s.width = 250.6; })
        }
    },
    plugins: [legendPlugin({
        left: 1504, top: 132, width: 488, height: 188,
        x0: 1514, x1: 1596, textX: 1605, size: 49,
        rows: [
            { text: 'Electricity demand', y: 167, draw: function (c, a, b, y) { dot(c, (a + b) / 2, y, 7.5, null, BLUE, 2.7); } },
            { text: 'Cubic fit', y: 226, draw: function (c, a, b, y) { hLine(c, a, b, y, GREEN, 6, [22, 16, 4, 2, 22, 16]); } },
            { text: 'Quadratic fit', y: 285, draw: function (c, a, b, y) { hLine(c, a, b, y, PURPLE, 6); dot(c, (a + b) / 2, y, 2.5, MARK); } }
        ]
    })]
});

new Chart(document.getElementById('lookupChart'), {
    type: 'scatter',
    data: {
        datasets: [
            {
                label: 'Piecewise approximation',
                data: xy(piecewiseB),
                showLine: true,
                borderColor: ORANGE,
                borderWidth: 5,
                pointRadius: 12.5,
                pointBackgroundColor: RED,
                pointBorderColor: ORANGE,
                pointBorderWidth: 5,
                order: 1
            },
            {
                label: 'Electricity demand',
                data: xy(demandB),
                backgroundColor: BLUE,
                borderWidth: 0,
                pointRadius: 4.5,
                order: 2
            }
        ]
    },
    options: {
        responsive: false,
        animation: false,
        devicePixelRatio: 1,
        layout: { padding: { top: 0, right: 56, bottom: 0, left: 0 } },
        plugins: {
            legend: { display: false },
            tooltip: { enabled: false },
            title: {
                display: true,
                fullSize: false,
                text: 'Piecewise look-up table least square estimation',
                color: '#000',
                font: { family: SERIF, size: 58, weight: 'bold', lineHeight: 1 },
                padding: { top: 36, bottom: 16.6 }
            }
        },
        scales: {
            x: axis(xTicksB, -10, 40, 'Temperature ( ℃)', 51.5, 56, 27, -15, 32,
                function (s) { s.height = 178; s.paddingLeft = 0; s.paddingRight = 0; }),
            y: axis(yTicksB, 2500, 5500, 'Electricity demand (MW)', 51.5, 57.4, 38.6, -15, 31.6,
                function (s) { s.width = 229; })
        }
    },
    plugins: [legendPlugin({
        left: 1015, top: 137, width: 586, height: 123,
        x0: 1025, x1: 1104, textX: 1112, size: 47,
        rows: [
            { text: 'Electricity demand', y: 170, draw: function (c, a, b, y) { dot(c, (a + b) / 2, y, 4.5, BLUE); } },
            { text: 'Piecewise approximation', y: 227, draw: function (c, a, b, y) { hLine(c, a, b, y, ORANGE, 5); dot(c, (a + b) / 2, y, 12.5, RED, ORANGE, 5); } }
        ]
    })]
});
</script>
</body>
</html>
